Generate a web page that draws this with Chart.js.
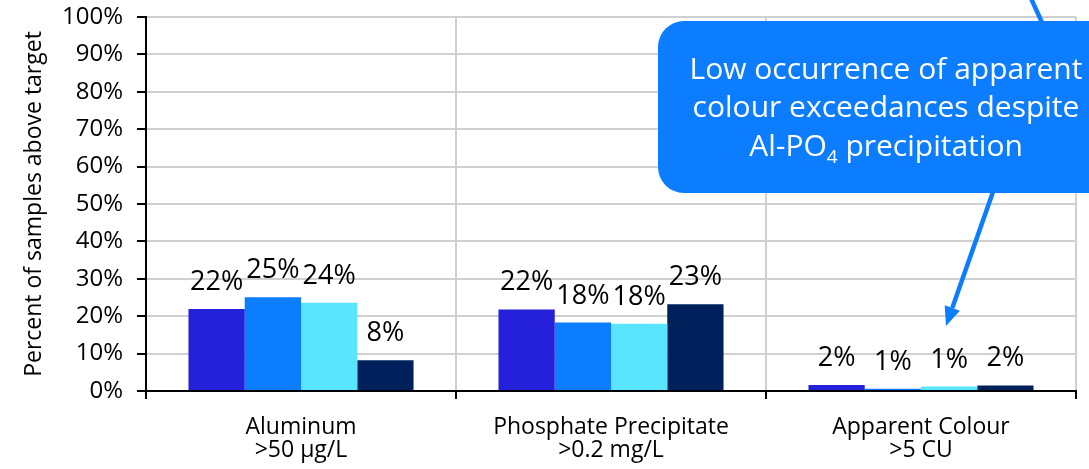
<!DOCTYPE html>
<html>
<head>
<meta charset="utf-8">
<title>Samples above target</title>
<script src="https://cdn.jsdelivr.net/npm/chart.js@4.4.1/dist/chart.umd.min.js"></script>
<style>
  html, body { margin: 0; padding: 0; background: #ffffff; }
  #wrap { width: 1089px; height: 469px; }
</style>
</head>
<body>
<div id="wrap"><canvas id="chart" width="1089" height="469"></canvas></div>
<script>
// Parameter groups (two-line axis labels)
const categories = [
  ['Aluminum', '>50 \u00b5g/L'],
  ['Phosphate Precipitate', '>0.2 mg/L'],
  ['Apparent Colour', '>5 CU']
];

// Percent of samples above target, one array per series
const series1 = [21.9, 21.8, 1.6];
const series2 = [25.1, 18.3, 0.6];
const series3 = [23.6, 18.0, 1.2];
const series4 = [8.2, 23.2, 1.5];

const seriesNames = ['Series 1', 'Series 2', 'Series 3', 'Series 4'];
const seriesColors = ['#2520D9', '#0D7DFF', '#5AE5FF', '#00205B'];

const yTickMax = 100;
const yTickStep = 10;

const calloutLines = ['Low occurrence of apparent', 'colour exceedances despite'];

const FONT = '"Open Sans", "Noto Sans", sans-serif';

// Percent labels above each bar
const valueLabels = {
  id: 'valueLabels',
  afterDatasetsDraw(chart) {
    const ctx = chart.ctx;
    ctx.save();
    ctx.font = '27px ' + FONT;
    ctx.fillStyle = '#000000';
    ctx.textAlign = 'center';
    ctx.textBaseline = 'alphabetic';
    chart.data.datasets.forEach((ds, i) => {
      chart.getDatasetMeta(i).data.forEach((bar, j) => {
        ctx.fillText(Math.round(ds.data[j]) + '%', bar.x, bar.y - 19);
      });
    });
    ctx.restore();
  }
};

// Blue rounded callout with connector arrows
const callout = {
  id: 'callout',
  afterDraw(chart) {
    const ctx = chart.ctx;
    const xs = chart.scales.x, ys = chart.scales.y;
    const blue = '#0D7DFF';
    const box = { x: 658, y: 21, w: 456, h: 172, r: 26 };

    ctx.save();
    ctx.strokeStyle = blue;
    ctx.fillStyle = blue;
    ctx.lineWidth = 4.5;
    ctx.lineCap = 'butt';

    // connector leaving the top edge of the canvas
    ctx.beginPath();
    ctx.moveTo(1050, 40);
    ctx.lineTo(1029, -6);
    ctx.stroke();

    // arrow pointing at the colour group
    const tipX = xs.getPixelForValue(2) + 25;
    const tipY = ys.getPixelForValue(17.4);
    const sx = 994, sy = box.y + box.h - 4;
    const ang = Math.atan2(tipY - sy, tipX - sx);
    const headLen = 19, headHalf = 8;
    const bx = tipX - headLen * Math.cos(ang), by = tipY - headLen * Math.sin(ang);
    ctx.beginPath();
    ctx.moveTo(sx, sy);
    ctx.lineTo(bx, by);
    ctx.stroke();
    ctx.beginPath();
    ctx.moveTo(tipX, tipY);
    ctx.lineTo(bx + headHalf * Math.sin(ang), by - headHalf * Math.cos(ang));
    ctx.lineTo(bx - headHalf * Math.sin(ang), by + headHalf * Math.cos(ang));
    ctx.closePath();
    ctx.fill();

    // box
    ctx.beginPath();
    ctx.roundRect(box.x, box.y, box.w, box.h, box.r);
    ctx.fill();

    // text
    const cx = 886;
    ctx.fillStyle = '#ffffff';
    ctx.textBaseline = 'alphabetic';
    ctx.textAlign = 'center';
    ctx.font = '30px ' + FONT;
    ctx.fillText(calloutLines[0], cx, 79);
    ctx.fillText(calloutLines[1], cx, 117);

    // third line with subscript
    const partA = 'Al-PO', sub = '4', partB = ' precipitation';
    const mainFont = '30px ' + FONT, subFont = '19px ' + FONT;
    ctx.font = mainFont;
    const wA = ctx.measureText(partA).width;
    const wB = ctx.measureText(partB).width;
    ctx.font = subFont;
    const wS = ctx.measureText(sub).width;
    let x = cx - (wA + wS + wB) / 2;
    ctx.textAlign = 'left';
    ctx.font = mainFont;
    ctx.fillText(partA, x, 156);
    x += wA;
    ctx.font = subFont;
    ctx.fillText(sub, x, 163);
    x += wS;
    ctx.font = mainFont;
    ctx.fillText(partB, x, 156);
    ctx.restore();
  }
};

const datasets = [series1, series2, series3, series4].map((vals, i) => ({
  label: seriesNames[i],
  data: vals,
  backgroundColor: seriesColors[i],
  borderWidth: 0,
  categoryPercentage: 0.726,
  barPercentage: 1.0
}));

new Chart(document.getElementById('chart'), {
  type: 'bar',
  data: { labels: categories, datasets },
  options: {
    responsive: false,
    animation: false,
    devicePixelRatio: 1,
    layout: { padding: { top: 17, right: 13, left: 0, bottom: 0 } },
    plugins: {
      legend: { display: false },
      tooltip: { enabled: false }
    },
    scales: {
      x: {
        grid: {
          offset: true,
          color: '#D0D0D0',
          lineWidth: 2,
          tickColor: '#000000',
          tickLength: 8,
          tickWidth: 2
        },
        border: { color: '#000000', width: 2 },
        ticks: {
          color: '#000000',
          font: { family: FONT, size: 23, lineHeight: 1.0 },
          padding: 17,
          maxRotation: 0,
          autoSkip: false
        },
        afterFit(scale) {
          scale.height = 78;
          scale.paddingLeft = 0;
          scale.paddingRight = 0;
        }
      },
      y: {
        min: 0,
        max: yTickMax,
        grid: {
          color: '#D0D0D0',
          lineWidth: 2,
          tickColor: '#000000',
          tickLength: 9,
          tickWidth: 2
        },
        border: { color: '#000000', width: 2 },
        ticks: {
          stepSize: yTickStep,
          color: '#000000',
          font: { family: FONT, size: 24 },
          padding: 14,
          callback: v => v + '%'
        },
        title: {
          display: true,
          text: 'Percent of samples above target',
          color: '#000000',
          font: { family: FONT, size: 23 },
          padding: { top: 21, bottom: 0 }
        },
        afterFit(scale) {
          scale.width = 146;
          scale.paddingTop = 0;
          scale.paddingBottom = 0;
        }
      }
    }
  },
  plugins: [valueLabels, callout]
});
</script>
</body>
</html>
